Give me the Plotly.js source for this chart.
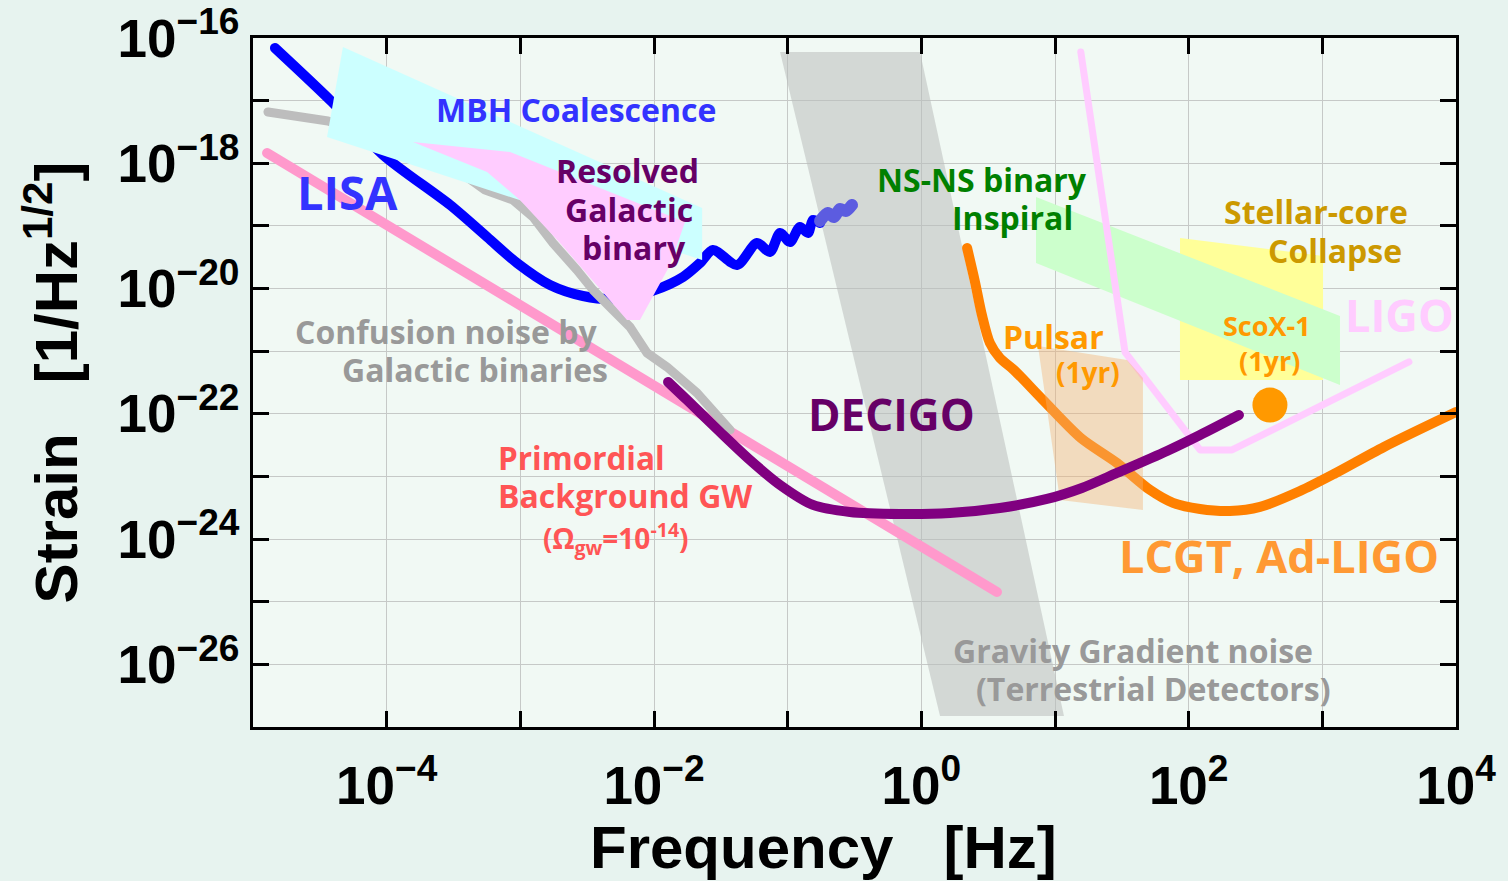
<!DOCTYPE html>
<html>
<head>
<meta charset="utf-8">
<script src="https://cdn.plot.ly/plotly-3.0.1.min.js"></script>
<style>
  html, body { margin: 0; padding: 0; background: #e7f3ef; }
  #chart { width: 1508px; height: 881px; }
  .js-line { stroke-linecap: round; stroke-linejoin: round; }
</style>
</head>
<body>
<div id="chart"></div>
<script>
// ---------------- data (frequency in Hz, strain in 1/sqrt(Hz)) ----------------
// LISA sensitivity
const lisaF = [1.46e-5, 3.90e-5, 9.40e-5, 2.98e-4, 5.64e-4, 9.44e-4, 1.667e-3, 2.94e-3, 5.1e-3, 1.016e-2, 1.648e-2, 2.21e-2, 2.76e-2, 4.18e-2, 5.89e-2, 7.38e-2, 8.77e-2, 1.04e-1, 1.236e-1, 1.419e-1, 1.545e-1, 1.746e-1];
const lisaH = [6.92e-17, 9.51e-18, 1.36e-18, 2.16e-19, 6.65e-20, 2.56e-20, 1.14e-20, 7.6e-21, 6.81e-21, 9.48e-21, 1.53e-20, 2.56e-20, 4.13e-20, 2.38e-20, 5.33e-20, 3.84e-20, 7.71e-20, 5.53e-20, 9.62e-20, 7.71e-20, 1.245e-19, 1.114e-19];
// LISA high-frequency tail (lighter)
const lisaTailF = [1.746e-1, 2.0e-1, 2.22e-1, 2.46e-1, 2.73e-1, 3.03e-1];
const lisaTailH = [1.2e-19, 1.607e-19, 1.387e-19, 1.862e-19, 1.73e-19, 2.16e-19];
// Confusion noise by Galactic binaries
const confF = [1.294e-5, 3.64e-5, 1.259e-4, 3.54e-4, 5.45e-4, 8.81e-4, 1.245e-3, 1.754e-3, 2.65e-3, 3.5e-3, 4.93e-3, 6.61e-3, 8.87e-3, 1.25e-2, 2.1e-2, 2.72e-2, 3.71e-2];
const confH = [6.59e-18, 4.73e-18, 1.888e-18, 7.26e-19, 3.74e-19, 2.59e-19, 1.387e-19, 5.33e-20, 1.977e-20, 9.48e-21, 4.55e-21, 2.43e-21, 9.35e-22, 5.6e-22, 2.15e-22, 1.15e-22, 5.52e-23];
// Primordial background GW (Omega_gw = 1e-14)
const primF = [1.274e-5, 3.68];
const primH = [1.459e-18, 1.432e-25];
// DECIGO sensitivity
const decigoF = [1.274e-2, 1.766e-2, 3.12e-2, 5.22e-2, 8.77e-2, 1.545e-1, 2.92e-1, 6.92e-1, 1.637, 3.87, 8.71, 15.9, 29.1, 68.9, 121.6, 237.7];
const decigoH = [3.22e-22, 1.663e-22, 5.13e-23, 1.832e-23, 7.31e-24, 3.51e-24, 2.71e-24, 2.52e-24, 2.61e-24, 3.14e-24, 4.37e-24, 6.55e-24, 1.138e-23, 2.55e-23, 4.59e-23, 9.57e-23];
// LCGT, Ad-LIGO
const lcgtF = [2.20, 2.52, 2.84, 3.26, 3.87, 4.93, 8.13, 15.6, 29.1, 51.4, 76.4, 121.6, 203.7, 342, 681, 1222, 2891, 10000];
const lcgtH = [4.44e-20, 1.274e-20, 3.78e-21, 1.352e-21, 7.78e-22, 5.01e-22, 1.663e-22, 4.11e-23, 1.64e-23, 6.08e-24, 3.78e-24, 3.03e-24, 2.81e-24, 3.26e-24, 5.86e-24, 1.096e-23, 2.96e-23, 1.069e-22];
// LIGO
const ligoF = [15.6, 33.4, 121.6, 211, 4446];
const ligoH = [5.98e-17, 9.7e-22, 2.65e-23, 2.65e-23, 6.73e-22];
// ScoX-1 (1yr)
const scoF = [405.5];
const scoH = [1.38e-22];
// Regions (polygons)
const ggnF = [8.77e-2, 0.977, 11.67, 1.38];            // Gravity gradient noise
const ggnH = [5.98e-17, 5.98e-17, 1.5e-27, 1.5e-27];
const mbhF = [4.71e-5, 2.29e-2, 2.29e-2, 3.58e-5];      // MBH coalescence
const mbhH = [7.18e-17, 1.93e-19, 2.86e-20, 2.63e-18];
const rgbF = [1.574e-4, 8.38e-4, 1.706e-2, 1.318e-2, 7.85e-3, 6.28e-3, 1.98e-3, 9.93e-4, 5.64e-4]; // Resolved galactic binary
const rgbH = [2.19e-18, 1.514e-18, 1.156e-19, 2.38e-20, 3.15e-21, 3.15e-21, 5.33e-20, 2.59e-19, 7.26e-19];
const nsF = [7.21, 1355, 1355, 7.21];                  // NS-NS binary inspiral
const nsH = [2.9e-19, 3.65e-21, 2.88e-22, 2.56e-20];
const sccF = [86.1, 1012, 1012, 86.1];                 // Stellar-core collapse
const sccH = [6.41e-20, 3.31e-20, 3.47e-22, 3.47e-22];
const pulsarF = [7.46, 34.6, 45.5, 45.5, 10.9];         // Pulsar (1yr)
const pulsarH = [1.21e-21, 7.24e-22, 3.73e-22, 2.92e-24, 4.22e-24];

// tick labels (labelled decades) and unlabelled decades
const xTickVals = [1e-4, 1e-2, 1e0, 1e2, 1e4];
const xTickText = ['10<sup>\u22124</sup>', '10<sup>\u22122</sup>', '10<sup>0</sup>', '10<sup>2</sup>', '10<sup>4</sup>'];
const xMinorVals = [1e-5, 1e-3, 1e-1, 1e1, 1e3];
const yTickVals = [1e-26, 1e-24, 1e-22, 1e-20, 1e-18, 1e-16];
const yTickText = ['10<sup>\u221226</sup>', '10<sup>\u221224</sup>', '10<sup>\u221222</sup>', '10<sup>\u221220</sup>', '10<sup>\u221218</sup>', '10<sup>\u221216</sup>'];
const yMinorVals = [1e-27, 1e-25, 1e-23, 1e-21, 1e-19, 1e-17];

// ---------------- drawing ----------------
function line(x, y, color, width, shape) {
  return {x: x, y: y, type: 'scatter', mode: 'lines', hoverinfo: 'skip',
          line: {color: color, width: width, shape: shape || 'linear', smoothing: 0.8}};
}
function poly(x, y, color) {
  return {x: x, y: y, type: 'scatter', mode: 'lines', fill: 'toself', fillcolor: color,
          hoverinfo: 'skip', line: {width: 0, color: 'rgba(0,0,0,0)'}};
}
// polygon drawn as a data-referenced shape above the traces (covers the curves beneath it)
function polyAbove(x, y, color) {
  const path = 'M' + x.map((v, i) => v + ',' + y[i]).join('L') + 'Z';
  return {type: 'path', xref: 'x', yref: 'y', path: path, fillcolor: color,
          line: {width: 0}, layer: 'above'};
}

const traces = [
  poly(ggnF, ggnH, 'rgba(186,190,188,0.55)'),
  poly(sccF, sccH, '#ffff99'),
  poly(nsF, nsH, '#ccffcc'),
  line(ligoF, ligoH, '#ffccff', 7),
  line(primF, primH, '#ff99cc', 10),
  line(lisaF, lisaH, '#0000ff', 10, 'spline'),
  line(lisaTailF, lisaTailH, '#5c5ce0', 12, 'spline'),
  line(confF, confH, '#bdbdbd', 9),
  line(lcgtF, lcgtH, '#ff8000', 10, 'spline'),
  poly(pulsarF, pulsarH, 'rgba(243,178,115,0.42)'),
  line(decigoF, decigoH, '#800080', 10, 'spline'),
  {x: scoF, y: scoH, type: 'scatter', mode: 'markers', hoverinfo: 'skip',
   marker: {color: '#ff9900', size: 35, line: {width: 0}}}
];

const shapes = [
  polyAbove(mbhF, mbhH, '#ccffff'),
  polyAbove(rgbF, rgbH, '#ffccff')
];

// label helper: pixel position in the 1508x881 picture -> paper coordinates
const L = 253, R = 1456, T = 38, B = 727;
function lab(text, px, py, color, size, xanchor, family) {
  return {
    text: text, xref: 'paper', yref: 'paper',
    x: (px - L) / (R - L), y: (B - py) / (B - T),
    xanchor: xanchor || 'center', yanchor: 'middle', showarrow: false,
    font: {family: family || 'Open Sans, Liberation Sans, sans-serif', size: size, color: color, weight: 700}
  };
}

const annotations = [
  lab('MBH Coalescence', 576, 109, '#3333ff', 32),
  lab('LISA', 347, 192, '#3333ff', 47),
  lab('Resolved', 627, 170, '#660066', 32),
  lab('Galactic', 629, 209, '#660066', 32),
  lab('binary', 634, 247, '#660066', 32),
  lab('Confusion noise by', 446, 331, '#999999', 32),
  lab('Galactic binaries', 475, 369, '#999999', 32),
  lab('Primordial', 496, 457, '#ff5555', 31.5, 'left'),
  lab('Background GW', 496, 495, '#ff5555', 32, 'left'),
  lab('(\u03a9<sub>gw</sub>=10<sup>-14</sup>)', 616, 538, '#ff5555', 28),
  lab('DECIGO', 891, 414, '#660066', 44),
  lab('NS-NS binary', 982, 179, '#008000', 32),
  lab('Inspiral', 1012, 217, '#008000', 32),
  lab('Stellar-core', 1316, 211, '#cc9900', 32),
  lab('Collapse', 1335, 250, '#cc9900', 32),
  lab('Pulsar', 1053, 336, '#ff9900', 32),
  lab('(1yr)', 1088, 372, '#ff9900', 28),
  lab('ScoX-1', 1267, 326, '#ff9900', 27),
  lab('(1yr)', 1269, 360, '#ff9900', 27),
  lab('LIGO', 1399, 314, '#ffccff', 45),
  lab('LCGT, Ad-LIGO', 1279, 555, '#ff9933', 45),
  lab('Gravity Gradient noise', 1133, 650, '#999999', 32),
  lab('(Terrestrial Detectors)', 1153, 688, '#999999', 32),
  // x axis title
  lab('Frequency\u00a0\u00a0\u00a0[Hz]', 823, 847, '#000000', 60, 'center', 'Liberation Sans, Arial, sans-serif')
];

const gridCol = '#c6c9c7';
const axisCommon = {
  type: 'log', showline: true, linewidth: 3, linecolor: '#000', mirror: 'ticks',
  ticks: 'inside', ticklen: 16, tickwidth: 3, tickcolor: '#000',
  showgrid: true, gridcolor: gridCol, gridwidth: 1, zeroline: false,
  tickmode: 'array', automargin: false,
  tickfont: {family: 'Liberation Sans, Arial, sans-serif', size: 53, color: '#000', weight: 700}
};
const minorCommon = {ticks: 'inside', ticklen: 16, tickwidth: 3, tickcolor: '#000',
                     showgrid: true, gridcolor: gridCol, gridwidth: 1, tickmode: 'array'};
const titleFont = {family: 'Liberation Sans, Arial, sans-serif', size: 60, color: '#000', weight: 700};

const layout = {
  width: 1508, height: 881,
  margin: {l: L, r: 1508 - R, t: T, b: 881 - B, pad: 0},
  paper_bgcolor: '#e7f3ef', plot_bgcolor: '#f1f9f4',
  showlegend: false,
  xaxis: Object.assign({}, axisCommon, {
    range: [-5, 4], tickvals: xTickVals, ticktext: xTickText, ticklabelstandoff: 10,
    minor: Object.assign({}, minorCommon, {tickvals: xMinorVals})
  }),
  yaxis: Object.assign({}, axisCommon, {
    range: [-27, -16], tickvals: yTickVals, ticktext: yTickText, ticklabelstandoff: 0,
    minor: Object.assign({}, minorCommon, {tickvals: yMinorVals}),
    title: {text: 'Strain\u00a0\u00a0\u00a0[1/Hz<sup>1/2</sup>]', standoff: 21, font: titleFont}
  }),
  shapes: shapes,
  annotations: annotations
};

Plotly.newPlot('chart', traces, layout, {staticPlot: true, displayModeBar: false});
</script>
</body>
</html>
